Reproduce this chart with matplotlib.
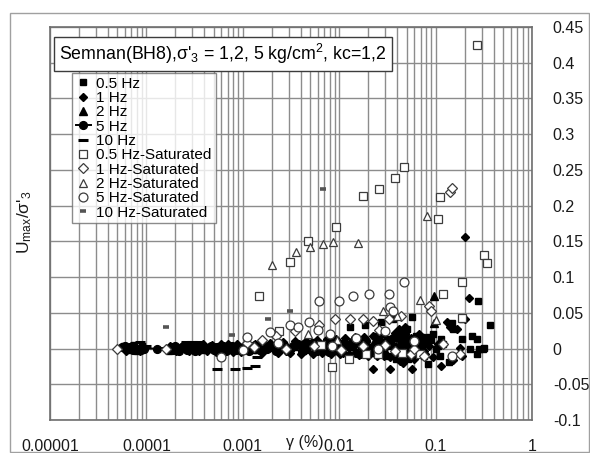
import matplotlib
matplotlib.use("Agg")
import matplotlib.pyplot as plt
from matplotlib.ticker import FixedLocator, NullFormatter
from matplotlib.patches import Rectangle

plt.rcParams["font.family"] = ["Liberation Sans", "DejaVu Sans"]
plt.rcParams["mathtext.default"] = "regular"

# (shear strain gamma in %, Umax / sigma'3) pairs for each test series
hz05 = [(5.8e-5, 0.004), (6.6e-5, -0.002), (7.4e-5, 0.005), (8.0e-5, -0.003), (9.0e-5, 0.003),
        (1.7e-4, -0.003), (2.3e-4, 0.001), (3.3e-4, 0.000), (4.6e-4, 0.001), (6.0e-4, -0.001),
        (8.0e-4, 0.000), (1.1e-3, 0.001), (1.4e-3, -0.002), (1.9e-3, 0.001), (2.5e-3, 0.006),
        (3.2e-3, 0.001), (4.2e-3, -0.003), (5.5e-3, 0.009), (7.2e-3, 0.001), (9.0e-3, -0.002),
        (1.1e-2, 0.008), (1.4e-2, 0.002), (1.7e-2, 0.012), (2.2e-2, -0.004), (2.6e-2, 0.006),
        (3.1e-2, 0.014), (3.5e-2, 0.004), (3.9e-2, -0.014), (4.1e-2, 0.020), (4.4e-2, 0.005),
        (4.5e-2, -0.016), (4.8e-2, 0.012), (5.0e-2, 0.028), (5.2e-2, 0.000), (5.8e-2, 0.008),
        (6.3e-2, 0.018), (7.0e-2, 0.004), (7.6e-2, -0.010), (8.5e-2, 0.016), (0.100, 0.000),
        (0.110, -0.010),
        (0.0016, 0.003), (0.0022, -0.002), (0.0035, 0.005), (0.0050, 0.008), (0.0065, 0.003),
        (0.0080, 0.012), (0.0095, -0.004), (0.0129, 0.030), (0.0150, 0.010), (0.0183, 0.033),
        (0.0200, 0.002), (0.0235, 0.018), (0.0269, 0.037), (0.0300, 0.008), (0.0330, -0.010),
        (0.0359, 0.041), (0.0400, 0.015), (0.0430, -0.006), (0.0470, 0.022), (0.0520, -0.015),
        (0.0566, 0.044), (0.0600, 0.010), (0.0650, -0.004), (0.0720, 0.016), (0.0780, 0.006),
        (0.0835, -0.022), (0.0900, 0.012), (0.0945, 0.021), (0.1050, 0.004), (0.1150, 0.014),
        (0.1200, 0.007), (0.1370, -0.019), (0.1480, 0.036), (0.1500, 0.027), (0.1870, 0.013),
        (0.1900, 0.041), (0.2250, 0.000), (0.2400, 0.018), (0.2700, 0.014), (0.2700, -0.008),
        (0.2750, 0.066), (0.2800, 0.000), (0.3100, 0.000), (0.3200, 0.001), (0.3660, 0.033)]

hz1 = [(6.2e-5, -0.003), (7.0e-5, 0.004), (8.5e-5, -0.003),
       (1.75e-4, 0.004), (2.05e-4, -0.004), (2.4e-4, 0.005), (2.75e-4, -0.004), (3.1e-4, 0.005),
       (3.5e-4, -0.004), (3.9e-4, 0.006), (4.3e-4, -0.004), (4.8e-4, 0.005), (5.3e-4, -0.005),
       (5.9e-4, 0.006), (6.5e-4, -0.004), (7.1e-4, 0.006), (7.9e-4, -0.005), (8.7e-4, 0.006),
       (9.5e-4, -0.005), (1.35e-3, 0.007), (1.6e-3, -0.006), (1.9e-3, 0.008), (2.3e-3, -0.006),
       (2.6e-3, 0.009), (3.1e-3, -0.006), (3.5e-3, 0.010), (4.0e-3, -0.007), (4.5e-3, 0.011),
       (5.3e-3, -0.007), (5.9e-3, 0.012), (6.6e-3, -0.006), (7.4e-3, 0.013), (8.2e-3, -0.007),
       (9.2e-3, 0.014), (1.03e-2, -0.008), (1.15e-2, 0.015), (1.27e-2, -0.008), (1.45e-2, 0.016),
       (1.6e-2, -0.009), (1.8e-2, 0.016), (2.0e-2, -0.010), (2.25e-2, 0.018), (2.45e-2, -0.010),
       (2.75e-2, 0.020), (3.05e-2, 0.002), (3.4e-2, -0.012), (3.8e-2, 0.022), (4.2e-2, 0.028),
       (4.3e-2, -0.018), (4.5e-2, 0.010), (4.6e-2, -0.020), (4.7e-2, 0.025), (5.0e-2, -0.010),
       (5.5e-2, 0.015), (6.0e-2, -0.014), (6.8e-2, 0.020), (7.5e-2, -0.004), (8.2e-2, 0.010),
       (0.0012, -0.002), (0.0018, 0.004), (0.0028, -0.003), (0.0042, 0.006), (0.0060, -0.004),
       (0.0085, 0.008), (0.0110, -0.006), (0.0140, 0.012), (0.0170, -0.008), (0.0223, -0.029),
       (0.0250, 0.010), (0.0290, -0.010), (0.0333, -0.029), (0.0370, 0.016), (0.0410, 0.025),
       (0.0440, -0.012), (0.0480, 0.030), (0.0530, 0.005), (0.0570, -0.029), (0.0620, -0.006),
       (0.0700, 0.012), (0.0780, -0.008), (0.0860, 0.004), (0.0950, -0.012), (0.1050, 0.006),
       (0.1150, -0.025), (0.1300, 0.037), (0.1400, 0.030), (0.1500, -0.016), (0.1680, 0.028),
       (0.1800, 0.001), (0.1900, -0.011), (0.2000, 0.156), (0.2000, 0.042), (0.2220, 0.071)]

hz2 = [(1.85e-4, 0.000), (2.7e-4, 0.001), (3.7e-4, -0.001), (5.1e-4, 0.002), (7.0e-4, -0.001),
       (9.3e-4, 0.002), (1.25e-3, 0.000), (1.7e-3, 0.003), (2.4e-3, 0.001), (3.4e-3, 0.003),
       (4.8e-3, -0.001), (6.8e-3, 0.005), (9.5e-3, 0.001), (1.3e-2, 0.004), (1.8e-2, 0.007),
       (2.4e-2, 0.002), (3.3e-2, 0.010), (3.9e-2, 0.004), (4.4e-2, 0.016), (4.9e-2, -0.004),
       (5.4e-2, 0.008),
       (0.0015, 0.002), (0.0030, -0.002), (0.0060, 0.004), (0.0120, 0.006), (0.0200, -0.003),
       (0.0350, 0.008), (0.0500, 0.010), (0.0650, 0.003), (0.0965, 0.074), (0.0965, 0.036)]

hz5 = [(5.6e-5, 0.002), (6.0e-5, 0.003), (6.4e-5, 0.001), (6.8e-5, 0.002), (7.2e-5, -0.002),
       (7.7e-5, 0.001), (8.2e-5, 0.000), (8.8e-5, -0.002), (9.5e-5, 0.000), (1.3e-4, 0.000),
       (1.8e-4, 0.002), (1.9e-4, -0.002), (2.0e-4, 0.003), (2.1e-4, 0.000), (2.2e-4, -0.003),
       (2.35e-4, 0.002), (2.5e-4, 0.004), (2.65e-4, -0.002), (2.8e-4, 0.001), (3.0e-4, 0.003),
       (3.2e-4, -0.003), (3.4e-4, 0.000), (3.6e-4, 0.002), (3.8e-4, 0.004), (4.1e-4, -0.001),
       (4.4e-4, 0.001), (4.7e-4, 0.003), (5.0e-4, -0.002), (5.4e-4, 0.002), (5.8e-4, 0.000),
       (6.2e-4, 0.003), (6.7e-4, -0.003), (7.2e-4, 0.001), (7.8e-4, 0.004), (8.4e-4, -0.002),
       (9.0e-4, 0.002), (9.7e-4, 0.000), (1.05e-3, 0.003), (1.15e-3, -0.004), (1.25e-3, 0.002),
       (1.35e-3, 0.005), (1.5e-3, -0.002), (1.65e-3, 0.003), (1.8e-3, 0.000), (2.0e-3, 0.004),
       (2.2e-3, -0.003), (2.45e-3, 0.002), (2.7e-3, 0.005), (3.0e-3, -0.004), (3.3e-3, 0.003),
       (3.7e-3, 0.006), (4.1e-3, -0.003), (4.6e-3, 0.002), (5.1e-3, 0.006), (5.7e-3, -0.004),
       (6.3e-3, 0.004), (7.0e-3, 0.007), (7.8e-3, -0.005), (8.7e-3, 0.003), (9.7e-3, 0.008),
       (1.08e-2, -0.004), (1.2e-2, 0.005), (1.35e-2, 0.009), (1.5e-2, -0.006), (1.7e-2, 0.004),
       (1.9e-2, 0.010), (2.1e-2, -0.005), (2.35e-2, 0.006), (2.6e-2, 0.012), (2.9e-2, -0.006),
       (3.2e-2, 0.008), (3.6e-2, 0.015), (4.0e-2, -0.008), (4.4e-2, 0.012), (4.8e-2, 0.020),
       (5.3e-2, 0.004)]

hz10 = [(8.6e-5, 0.009), (1.0e-4, 0.003), (2.55e-4, 0.009), (2.95e-4, 0.009), (3.4e-4, 0.009),
        (4.5e-4, 0.004), (5.4e-4, -0.029), (8.3e-4, -0.029), (1.1e-3, -0.027), (1.33e-3, -0.024),
        (1.4e-3, -0.012), (2.0e-3, 0.006), (5.0e-3, 0.008), (1.0e-2, 0.010), (3.0e-2, 0.012)]

hz05_sat = [(0.00147, 0.0735), (0.0024, 0.024), (0.0031, 0.121), (0.00474, 0.151), (0.0065, 0.005),
            (0.0084, -0.026), (0.0093, 0.170), (0.0127, -0.015), (0.0177, 0.2135), (0.0189, -0.008),
            (0.0250, -0.008), (0.0259, 0.223), (0.0380, 0.239), (0.0450, -0.006), (0.0470, 0.254),
            (0.0690, -0.008), (0.1070, 0.181), (0.1110, 0.212), (0.1190, 0.076), (0.1900, 0.093),
            (0.1900, 0.043), (0.2700, 0.425), (0.3200, 0.131), (0.3400, 0.120)]

hz1_sat = [(4.95e-5, 0.000), (1.6e-4, 0.000), (0.0011, 0.008), (0.0016, 0.012), (0.0022, 0.018),
           (0.0035, 0.025), (0.0062, 0.033), (0.0091, 0.041), (0.0129, 0.041), (0.0176, 0.041),
           (0.0223, 0.038), (0.0260, 0.026), (0.0330, 0.041), (0.0440, 0.045), (0.0300, 0.005),
           (0.0550, -0.008), (0.0845, 0.060), (0.0890, 0.053), (0.1200, 0.006), (0.1400, 0.219),
           (0.1490, 0.225), (0.1800, -0.008), (0.0013, 0.002), (0.0028, 0.000), (0.0055, 0.003),
           (0.0105, -0.002), (0.0175, 0.003), (0.0380, -0.004), (0.0600, 0.000), (0.0750, -0.010)]

hz2_sat = [(0.00201, 0.117), (0.00356, 0.135), (0.00498, 0.142), (0.00679, 0.147), (0.00863, 0.149),
           (0.01567, 0.148), (0.0047, 0.020), (0.0095, 0.012), (0.0282, 0.053), (0.0400, 0.045),
           (0.0695, 0.068), (0.0815, 0.185), (0.1000, 0.040)]

hz5_sat = [(5.94e-4, -0.012), (0.0010, -0.002), (0.0011, 0.016), (0.0019, 0.023), (0.0031, 0.033),
           (0.0037, 0.030), (0.0049, 0.037), (0.0060, 0.026), (0.0062, 0.066), (0.0080, 0.020),
           (0.0099, 0.067), (0.0138, 0.073), (0.0150, 0.015), (0.0202, 0.076), (0.0300, 0.025),
           (0.0330, 0.076), (0.0335, 0.058), (0.0360, 0.053), (0.0470, 0.093), (0.0600, 0.010),
           (0.1480, -0.010), (0.0023, 0.008), (0.0085, 0.004), (0.0250, 0.000)]

hz10_sat = [(1.6e-4, 0.030), (7.7e-4, 0.019), (1.83e-3, 0.041), (3.1e-3, 0.053), (6.8e-3, 0.223)]

x_ticks = [1e-5, 1e-4, 1e-3, 1e-2, 1e-1, 1]
x_tick_labels = ["0.00001", "0.0001", "0.001", "0.01", "0.1", "1"]
y_ticks = [-0.1, -0.05, 0, 0.05, 0.1, 0.15, 0.2, 0.25, 0.3, 0.35, 0.4, 0.45]
y_tick_labels = ["-0.1", "-0.05", "0", "0.05", "0.1", "0.15", "0.2", "0.25", "0.3", "0.35", "0.4", "0.45"]

W, H = 590, 453
fig = plt.figure(figsize=(W / 100, H / 100), dpi=100)
ax = fig.add_axes([50 / W, 33 / H, 482 / W, 393 / H])

EDGE = "#3c3c3c"


def xy(pairs):
    return [p[0] for p in pairs], [p[1] for p in pairs]


def solid(pairs, marker, ms, label, **kw):
    x, y = xy(pairs)
    return ax.plot(x, y, linestyle="none", marker=marker, ms=ms, color="black",
                   mec="black", mfc="black", label=label, zorder=3, **kw)[0]


def hollow(pairs, marker, ms, label):
    x, y = xy(pairs)
    return ax.plot(x, y, linestyle="none", marker=marker, ms=ms, mfc="white",
                   mec=EDGE, mew=0.9, label=label, zorder=4)[0]


h = []
h.append(solid(hz05, "s", 5.0, "0.5 Hz"))
h.append(solid(hz1, "D", 4.3, "1 Hz"))
h.append(solid(hz2, "^", 5.2, "2 Hz"))
x5, y5 = xy(hz5)
h.append(ax.plot(x5, y5, "-o", color="black", lw=1.4, ms=5.6, label="5 Hz", zorder=3)[0])
h.append(solid(hz10, "_", 7.5, "10 Hz", mew=2.2))
h.append(hollow(hz05_sat, "s", 5.8, "0.5 Hz-Saturated"))
h.append(hollow(hz1_sat, "D", 4.6, "1 Hz-Saturated"))
h.append(hollow(hz2_sat, "^", 5.4, "2 Hz-Saturated"))
h.append(hollow(hz5_sat, "o", 6.4, "5 Hz-Saturated"))
x10s, y10s = xy(hz10_sat)
h.append(ax.plot(x10s, y10s, linestyle="none", marker="_", ms=4.5, mew=2.6,
                 color="#555555", label="10 Hz-Saturated", zorder=4)[0])

ax.set_xscale("log")
ax.set_xlim(1e-5, 1)
ax.set_ylim(-0.1, 0.45)
ax.xaxis.set_major_locator(FixedLocator(x_ticks))
ax.set_xticklabels(x_tick_labels)
minor = [m * 10.0 ** e for e in range(-5, 0) for m in range(2, 10)]
ax.xaxis.set_minor_locator(FixedLocator(minor))
ax.xaxis.set_minor_formatter(NullFormatter())
ax.yaxis.tick_right()
ax.set_yticks(y_ticks)
ax.set_yticklabels(y_tick_labels)
ax.tick_params(which="both", length=0, labelsize=11.5, colors="#1a1a1a")
ax.tick_params(axis="y", pad=15)
ax.tick_params(axis="x", pad=14)
ax.grid(which="both", color="#8c8c8c", lw=1.0)
ax.set_axisbelow(True)
for s in ax.spines.values():
    s.set_color("#6e6e6e")
    s.set_linewidth(1.2)

leg = ax.legend(handles=h, loc="upper left", bbox_to_anchor=(22 / 482, (420 - 73) / 393),
                borderaxespad=0, fontsize=11, frameon=True, fancybox=False,
                handlelength=1.0, handletextpad=0.35, labelspacing=0.02, borderpad=0.25)
leg.get_frame().set_edgecolor("#6e6e6e")
leg.get_frame().set_linewidth(1.0)
leg.set_zorder(6)

ax.text(9 / 482, (420 - 54) / 393, r"Semnan(BH8),σ'$_3$ = 1,2, 5 kg/cm$^2$, kc=1,2",
        transform=ax.transAxes, fontsize=12.8, ha="left", va="center", zorder=7,
        bbox=dict(boxstyle="square,pad=0.3", fc="white", ec="#3c3c3c", lw=1.0))

fig.text(25 / W, 1 - 222 / H, r"U$_{max}$/σ'$_3$", rotation=90, ha="center", va="center",
         fontsize=12.5, color="#1a1a1a")
fig.text(305 / W, 1 - 443 / H, "γ (%)", ha="center", va="center", fontsize=11.5,
         color="#1a1a1a")

fig.patches.append(Rectangle((10 / W, 1 / H), 579 / W, 439 / H, transform=fig.transFigure,
                             fill=False, edgecolor="#a0a0a0", lw=1.0))

fig.savefig("out.png", dpi=100)
